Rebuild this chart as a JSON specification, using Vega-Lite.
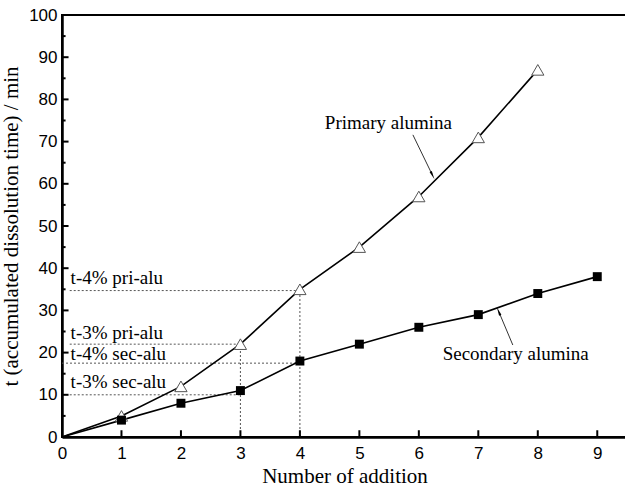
{
  "$schema": "https://vega.github.io/schema/vega-lite/v6.json",
  "autosize": "none",
  "padding": {"left": 62, "top": 15, "right": 0, "bottom": 50},
  "width": 565,
  "height": 422,
  "background": "white",
  "config": {
    "view": {"stroke": "black", "strokeWidth": 2},
    "style": {
      "guide-title": {"font": "Liberation Serif", "fontWeight": "normal", "fontSize": 21},
      "guide-label": {"font": "Liberation Sans", "fontSize": 17}
    },
    "axis": {"grid": false, "ticks": false, "domainColor": "black", "labelColor": "black", "titleColor": "black",
      "labelFont": "Liberation Sans", "titleFont": "Liberation Serif", "titleFontWeight": "normal", "titleFontSize": 21, "labelFontSize": 17}
  },
  "datasets": {
    "series": [
      {"n": 0, "t": 0, "s": "Primary"}, {"n": 1, "t": 5, "s": "Primary"}, {"n": 2, "t": 12, "s": "Primary"},
      {"n": 3, "t": 22, "s": "Primary"}, {"n": 4, "t": 35, "s": "Primary"}, {"n": 5, "t": 45, "s": "Primary"},
      {"n": 6, "t": 57, "s": "Primary"}, {"n": 7, "t": 71, "s": "Primary"}, {"n": 8, "t": 87, "s": "Primary"},
      {"n": 0, "t": 0, "s": "Secondary"}, {"n": 1, "t": 4, "s": "Secondary"}, {"n": 2, "t": 8, "s": "Secondary"},
      {"n": 3, "t": 11, "s": "Secondary"}, {"n": 4, "t": 18, "s": "Secondary"}, {"n": 5, "t": 22, "s": "Secondary"},
      {"n": 6, "t": 26, "s": "Secondary"}, {"n": 7, "t": 29, "s": "Secondary"}, {"n": 8, "t": 34, "s": "Secondary"},
      {"n": 9, "t": 38, "s": "Secondary"}
    ],
    "refs": [
      {"x1": 0.13, "x2": 4, "y1": 34.7, "y2": 34.7},
      {"x1": 0.13, "x2": 3, "y1": 22, "y2": 22},
      {"x1": 0, "x2": 4, "y1": 17.5, "y2": 17.5},
      {"x1": 0.13, "x2": 3, "y1": 10, "y2": 10},
      {"x1": 3, "x2": 3, "y1": 0, "y2": 22},
      {"x1": 4, "x2": 4, "y1": 0, "y2": 34.7}
    ],
    "xticks": [{"v": 1}, {"v": 2}, {"v": 3}, {"v": 4}, {"v": 5}, {"v": 6}, {"v": 7}, {"v": 8}, {"v": 9}],
    "yticks": [{"v": 10}, {"v": 20}, {"v": 30}, {"v": 40}, {"v": 50}, {"v": 60}, {"v": 70}, {"v": 80}, {"v": 90}],
    "yminor": [{"v": 5}, {"v": 15}, {"v": 25}, {"v": 35}, {"v": 45}, {"v": 55}, {"v": 65}, {"v": 75}, {"v": 85}, {"v": 95}],
    "labels": [
      {"x": 0.145, "y": 36.2, "label": "t-4% pri-alu"},
      {"x": 0.145, "y": 23.2, "label": "t-3% pri-alu"},
      {"x": 0.145, "y": 18.3, "label": "t-4% sec-alu"},
      {"x": 0.145, "y": 11.6, "label": "t-3% sec-alu"},
      {"x": 4.42, "y": 72.9, "label": "Primary alumina"},
      {"x": 6.4, "y": 18.3, "label": "Secondary alumina"}
    ],
    "arrows": [
      {"name": "pri", "x1": 5.9, "y1": 71.6, "x2": 6.22, "y2": 62.3},
      {"name": "sec", "x1": 7.58, "y1": 21.8, "x2": 7.35, "y2": 29.5}
    ]
  },
  "layer": [
    {
      "data": {"name": "refs"},
      "mark": {"type": "rule", "color": "#555", "strokeWidth": 1, "strokeDash": [2, 2]},
      "encoding": {
        "x": {"field": "x1", "type": "quantitative", "scale": {"domain": [0, 9.5], "nice": false},
          "axis": {"values": [0, 1, 2, 3, 4, 5, 6, 7, 8, 9], "format": "d", "domainWidth": 2.5,
            "labelFont": "Liberation Sans", "labelFontSize": 17, "labelPadding": 8, "labelFlush": false,
            "title": "Number of addition", "titleFont": "Liberation Serif", "titleFontSize": 21, "titleFontWeight": "normal", "titlePadding": 4}},
        "x2": {"field": "x2"},
        "y": {"field": "y1", "type": "quantitative", "scale": {"domain": [0, 100], "nice": false},
          "axis": {"values": [0, 10, 20, 30, 40, 50, 60, 70, 80, 90, 100], "domainWidth": 2.5,
            "labelFont": "Liberation Sans", "labelFontSize": 17, "labelPadding": 5, "labelFlush": false,
            "title": "t (accumulated dissolution time) / min", "titleFont": "Liberation Serif", "titleFontSize": 21, "titleFontWeight": "normal", "titlePadding": 7}},
        "y2": {"field": "y2"}
      }
    },
    {
      "data": {"name": "xticks"},
      "mark": {"type": "rule", "color": "black", "strokeWidth": 2},
      "encoding": {
        "x": {"field": "v", "type": "quantitative"},
        "y": {"datum": 0, "type": "quantitative"},
        "y2": {"datum": 1.6}
      }
    },
    {
      "data": {"name": "yticks"},
      "mark": {"type": "rule", "color": "black", "strokeWidth": 2},
      "encoding": {
        "y": {"field": "v", "type": "quantitative"},
        "x": {"datum": 0, "type": "quantitative"},
        "x2": {"datum": 0.11}
      }
    },
    {
      "data": {"name": "yminor"},
      "mark": {"type": "rule", "color": "black", "strokeWidth": 2},
      "encoding": {
        "y": {"field": "v", "type": "quantitative"},
        "x": {"datum": 0, "type": "quantitative"},
        "x2": {"datum": 0.06}
      }
    },
    {
      "data": {"name": "series"},
      "mark": {"type": "line", "color": "black", "strokeWidth": 1.6},
      "encoding": {
        "x": {"field": "n", "type": "quantitative"},
        "y": {"field": "t", "type": "quantitative"},
        "detail": {"field": "s"}
      }
    },
    {
      "data": {"name": "series"},
      "transform": [{"filter": "datum.s == 'Primary' && datum.n > 0"}],
      "mark": {"type": "point", "shape": "triangle-up", "filled": true, "fill": "white", "stroke": "#555", "strokeWidth": 1, "size": 150, "opacity": 1},
      "encoding": {
        "x": {"field": "n", "type": "quantitative"},
        "y": {"field": "t", "type": "quantitative"}
      }
    },
    {
      "data": {"name": "series"},
      "transform": [{"filter": "datum.s == 'Secondary' && datum.n > 0"}],
      "mark": {"type": "point", "shape": "square", "filled": true, "color": "black", "size": 80, "opacity": 1},
      "encoding": {
        "x": {"field": "n", "type": "quantitative"},
        "y": {"field": "t", "type": "quantitative"}
      }
    },
    {
      "data": {"name": "labels"},
      "mark": {"type": "text", "align": "left", "baseline": "alphabetic", "font": "Liberation Serif", "fontSize": 19, "color": "black"},
      "encoding": {
        "x": {"field": "x", "type": "quantitative"},
        "y": {"field": "y", "type": "quantitative"},
        "text": {"field": "label"}
      }
    },
    {
      "data": {"name": "arrows"},
      "mark": {"type": "rule", "color": "#333", "strokeWidth": 1},
      "encoding": {
        "x": {"field": "x1", "type": "quantitative"},
        "x2": {"field": "x2"},
        "y": {"field": "y1", "type": "quantitative"},
        "y2": {"field": "y2"}
      }
    },
    {
      "data": {"name": "arrows"},
      "transform": [{"filter": "datum.name == 'pri'"}],
      "mark": {"type": "point", "shape": "wedge", "filled": true, "color": "black", "size": 100, "angle": 154, "opacity": 1},
      "encoding": {
        "x": {"field": "x2", "type": "quantitative"},
        "y": {"field": "y2", "type": "quantitative"}
      }
    },
    {
      "data": {"name": "arrows"},
      "transform": [{"filter": "datum.name == 'sec'"}],
      "mark": {"type": "point", "shape": "wedge", "filled": true, "color": "black", "size": 100, "angle": 337, "opacity": 1},
      "encoding": {
        "x": {"field": "x2", "type": "quantitative"},
        "y": {"field": "y2", "type": "quantitative"}
      }
    }
  ]
}
